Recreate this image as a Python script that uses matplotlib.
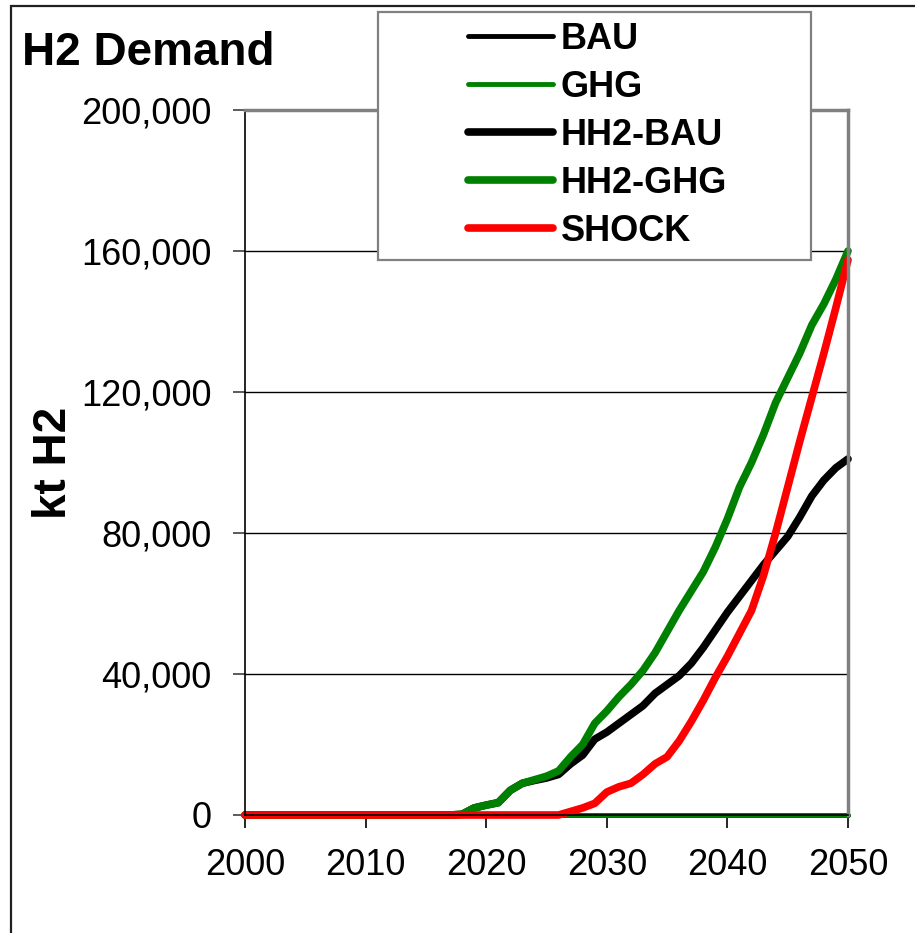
import numpy as np
import matplotlib
matplotlib.use("Agg")
import matplotlib.pyplot as plt
from matplotlib.patches import Rectangle
from matplotlib.ticker import FuncFormatter

plt.rcParams['font.family'] = ['Liberation Sans', 'DejaVu Sans']

years = np.arange(2000, 2051)
zeros_2000_2017 = [0] * 18

bau = [0] * 51
ghg = [0] * 51
hh2_bau = zeros_2000_2017 + [200, 2000, 2800, 3500, 7000, 9000, 9800, 10500, 11500,
                             14500, 17000, 21500, 23500, 26000, 28500, 31000, 34500,
                             37000, 39500, 43000, 47500, 52500, 57500, 62000, 66500,
                             71000, 75000, 79000, 84500, 90500, 95000, 98500, 101000]
hh2_ghg = zeros_2000_2017 + [200, 2000, 2800, 3500, 7000, 9000, 10000, 11000, 12500,
                             16500, 20000, 26000, 29500, 33500, 37000, 41000, 46000,
                             52000, 58000, 63500, 69000, 76000, 84000, 93000, 100000,
                             108000, 117000, 124000, 131000, 139000, 145000, 152000, 160000]
shock = zeros_2000_2017 + [0, 0, 0, 0, 0, 0, 0, 0, 0,
                           1000, 2000, 3300, 6500, 8000, 9000, 11500, 14500,
                           16500, 21000, 26500, 32500, 39000, 45000, 51500, 58000,
                           68000, 80000, 93000, 106000, 118500, 131000, 144000, 157500]

W, H = 915, 933
fig = plt.figure(figsize=(W / 100, H / 100), dpi=100)
ax = fig.add_axes([245 / W, 1 - 815 / H, (848 - 245) / W, (815 - 110) / H])

series = [
    ("BAU", bau, "black", 3.5),
    ("GHG", ghg, "#008000", 3.5),
    ("HH2-BAU", hh2_bau, "black", 5.5),
    ("HH2-GHG", hh2_ghg, "#008000", 5.5),
    ("SHOCK", shock, "#FF0000", 5.5),
]
handles = []
for name, vals, col, lw in series:
    ln, = ax.plot(years, vals, color=col, lw=lw, label=name, clip_on=False,
                  solid_capstyle='round', solid_joinstyle='round')
    handles.append(ln)

ax.set_xlim(2000, 2050)
ax.set_ylim(0, 200000)
ax.set_xticks(range(2000, 2051, 10))
ax.set_yticks(range(0, 200001, 40000))
ax.yaxis.set_major_formatter(FuncFormatter(lambda v, p: f"{int(v):,}"))
ax.tick_params(axis='both', labelsize=26, direction='out', length=9, width=1.2)
ax.tick_params(axis='y', pad=15, color='#404040')
ax.tick_params(axis='x', pad=15)
ax.grid(axis='y', color='black', lw=1.0)
ax.set_axisbelow(True)
for s in ['top', 'right']:
    ax.spines[s].set_color('#808080')
    ax.spines[s].set_linewidth(2.5)
ax.spines['left'].set_linewidth(1.2)
ax.spines['bottom'].set_linewidth(1.2)

ax.set_ylabel("kt H2", fontsize=33, fontweight='bold', labelpad=4)
fig.text(22 / W, 1 - 65 / H, "H2 Demand", fontsize=33, fontweight='bold',
         ha='left', va='baseline')

# outer chart border
fig.add_artist(Rectangle((11 / W, -0.05), 1.0, 1 - 6 / H + 0.05, transform=fig.transFigure,
                         fill=False, edgecolor='#202020', lw=1.6, zorder=1))

# legend frame and entries
fig.add_artist(Rectangle((378 / W, 1 - 260 / H), (811 - 378) / W, (260 - 12) / H,
                         transform=fig.transFigure, facecolor='white',
                         edgecolor='#808080', lw=1.6, zorder=4))
fig.legend(handles=handles, loc='upper left', bbox_to_anchor=(468 / W, 1 - 22 / H),
           frameon=False, borderpad=0, borderaxespad=0, handlelength=2.35,
           handletextpad=0.22, labelspacing=0.36,
           prop={'size': 26, 'weight': 'bold'})

fig.savefig("out.png", dpi=100)
